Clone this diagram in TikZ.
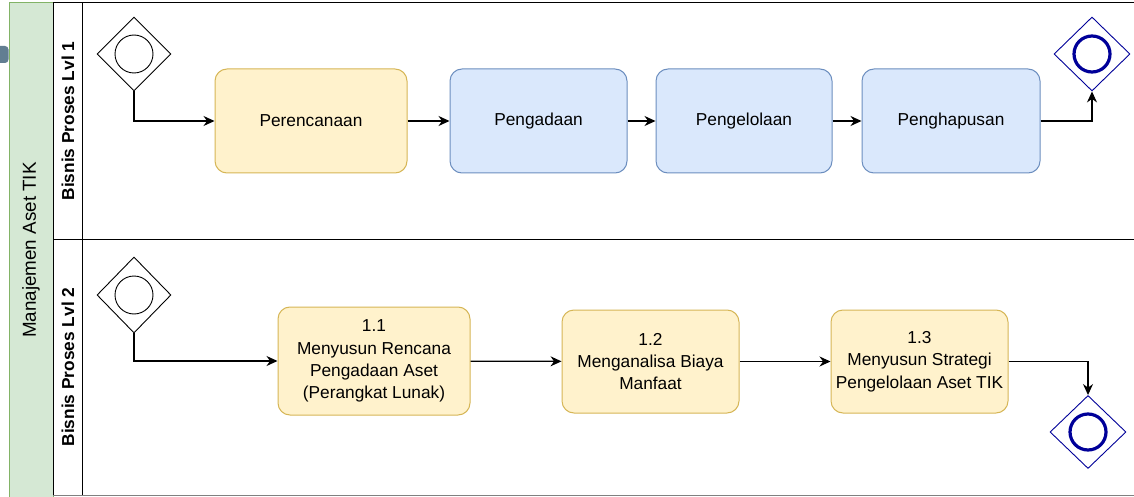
\documentclass[tikz,border=0pt]{standalone}
\usepackage{fontspec}
\setmainfont{Liberation Sans}
\usetikzlibrary{shapes.geometric,arrows.meta}

\definecolor{poolfill}{HTML}{D5E8D4}
\definecolor{poolline}{HTML}{82B366}
\definecolor{yelfill}{HTML}{FFF2CC}
\definecolor{yelline}{HTML}{D6B656}
\definecolor{bluefill}{HTML}{DAE8FC}
\definecolor{blueline}{HTML}{6C8EBF}
\definecolor{endline}{RGB}{0,0,153}
\definecolor{handle}{RGB}{98,126,146}

\tikzset{
  task/.style={draw, rounded corners=12pt, line width=1pt, align=center,
    font=\fontsize{17.3}{22.3}\selectfont, inner sep=2pt},
  yeltask/.style={task, fill=yelfill, draw=yelline},
  bluetask/.style={task, fill=bluefill, draw=blueline},
  gate/.style={diamond, draw, fill=white, line width=0.9pt, inner sep=0pt,
    minimum width=74pt, minimum height=74pt},
  startring/.style={circle, draw, line width=0.9pt, minimum size=38pt, inner sep=0pt},
  endgate/.style={gate, draw=endline},
  endring/.style={circle, draw=endline, line width=3.2pt, minimum size=36pt, inner sep=0pt},
  flow/.style={line width=1.2pt, -{Stealth[length=11pt,width=10pt]}},
  lanelabel/.style={rotate=90, font=\bfseries\fontsize{17.3}{20}\selectfont},
}

\begin{document}
\begin{tikzpicture}[x=1pt,y=-1pt]
\useasboundingbox (0,0) rectangle (1134,497);
\fill[white] (0,0) rectangle (1134,497);

% pool header with its grip
\fill[handle, rounded corners=3.5pt] (-6,46) rectangle (8.5,63);
\draw[poolline, fill=poolfill, line width=1pt] (9,3) rectangle (53,497);
\node[rotate=90, font=\fontsize{18.8}{22}\selectfont] (pool) at (31,250) {Manajemen Aset TIK};

% lanes
\draw[line width=1pt] (53,3) -- (1134,3);
\draw[line width=1pt] (53,239) -- (1134,239);
\draw[line width=1pt] (53,3) -- (53,495.5);
\draw[line width=1pt] (82,3) -- (82,495.5);
\draw[gray, line width=1pt] (53,495.5) -- (1134,495.5);
\node[lanelabel] (lane1) at (68,121) {Bisnis Proses Lvl 1};
\node[lanelabel] (lane2) at (68,367) {Bisnis Proses Lvl 2};

% level 1 process
\node[gate] (s1) at (134,54) {};
\node[startring] (s1r) at (s1) {};
\node[yeltask, minimum width=192pt, minimum height=104pt] (t1) at (311,121) {Perencanaan};
\node[bluetask, minimum width=177pt, minimum height=104pt] (t2) at (538.5,121) {Pengadaan};
\node[bluetask, minimum width=176pt, minimum height=104pt] (t3) at (744,121) {Pengelolaan};
\node[bluetask, minimum width=178pt, minimum height=104pt] (t4) at (951,121) {Penghapusan};
\node[endgate, minimum width=76pt, minimum height=74pt] (e1) at (1092,54) {};
\node[endring] (e1r) at (e1) {};

\draw[flow] (s1.south) |- (t1.west);
\draw[flow] (t1) -- (t2);
\draw[flow] (t2) -- (t3);
\draw[flow] (t3) -- (t4);
\draw[flow] (t4.east) -| (e1.south);

% level 2 process
\node[gate, minimum height=76pt] (s2) at (134,295) {};
\node[startring] (s2r) at (s2) {};
\node[yeltask, minimum width=192pt, minimum height=108pt] (u1) at (374,361)
  {1.1\\Menyusun Rencana\\Pengadaan Aset\\(Perangkat Lunak)};
\node[yeltask, minimum width=177pt, minimum height=103pt] (u2) at (650.5,361.5)
  {1.2\\Menganalisa Biaya\\Manfaat};
\node[yeltask, minimum width=177pt, minimum height=103pt] (u3) at (919.5,361.5)
  {1.3\\Menyusun Strategi\\Pengelolaan Aset TIK};
\node[endgate, minimum width=76pt, minimum height=73pt] (e2) at (1088,432) {};
\node[endring] (e2r) at (e2) {};

\draw[flow] (s2.south) |- (u1.west);
\draw[flow] (u1) -- (u2);
\draw[flow] (u2) -- (u3);
\draw[flow] (u3.east) -| (e2.north);
\end{tikzpicture}
\end{document}
